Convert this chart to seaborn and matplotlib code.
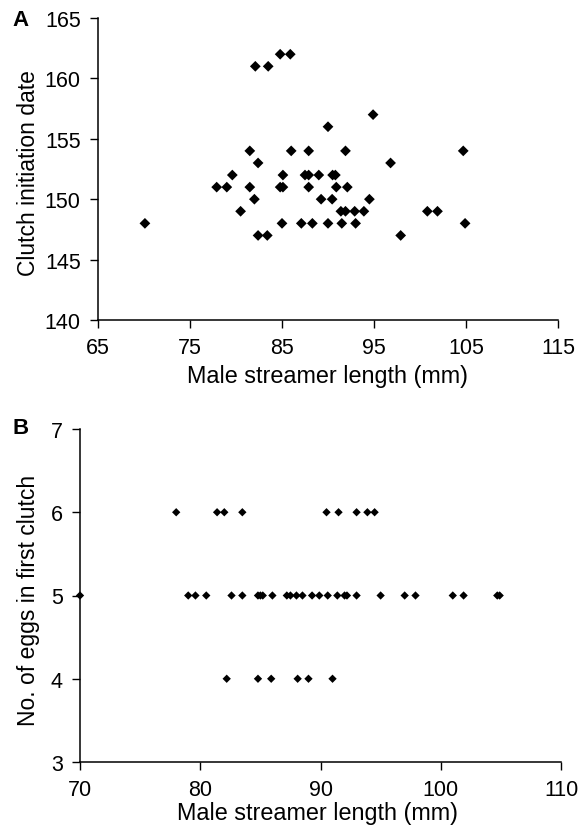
import numpy as np
import pandas as pd
import seaborn as sns
import matplotlib.pyplot as plt

# panel A: clutch initiation date vs male streamer length
streamer_a = [84.8, 85.9,
              82.1, 83.5,
              94.9,
              90.0,
              81.5, 86.0, 87.9, 91.9, 104.7,
              82.4, 96.8,
              79.6, 85.1, 87.5, 87.9, 89.0, 90.5, 90.8,
              77.9, 79.0, 81.5, 84.8, 85.1, 87.9, 90.9, 92.1,
              82.0, 89.25, 90.45, 94.5,
              80.5, 91.4, 91.9, 92.9, 93.9, 100.8, 101.9,
              70.1, 85.0, 87.1, 88.3, 90.0, 91.5, 93.0, 104.9,
              82.4, 83.4, 97.9]
date_a = ([162] * 2 + [161] * 2 + [157] + [156] + [154] * 5 + [153] * 2 +
          [152] * 7 + [151] * 8 + [150] * 4 + [149] * 7 + [148] * 8 + [147] * 3)

# panel B: eggs in first clutch vs male streamer length
streamer_b = [78.0, 81.4, 82.0, 83.5, 90.5, 91.5, 93.0, 93.9, 94.5,
              70.0, 79.0, 79.6, 80.5, 82.6, 83.5, 84.8, 85.0, 85.2, 86.0,
              87.2, 87.5, 88.0, 88.5, 89.3, 89.9, 90.6, 91.4, 92.0, 92.2,
              93.0, 95.0, 97.0, 97.9, 101.0, 101.9, 104.7, 104.9,
              82.2, 84.8, 85.9, 88.1, 89.0, 91.0]
eggs_b = [6] * 9 + [5] * 28 + [4] * 6

df_a = pd.DataFrame({'streamer': streamer_a, 'date': date_a})
df_b = pd.DataFrame({'streamer': streamer_b, 'eggs': eggs_b})

sns.set_style("ticks")
plt.rcParams['font.family'] = ['Liberation Sans', 'DejaVu Sans']
plt.rcParams.update({'text.color': 'black', 'axes.labelcolor': 'black',
                     'xtick.color': 'black', 'ytick.color': 'black',
                     'axes.edgecolor': 'black'})

W, H = 585, 828
fig = plt.figure(figsize=(W / 100, H / 100), dpi=100)

ax1 = fig.add_axes([98 / W, 1 - 321 / H, (558 - 98) / W, (321 - 19) / H])
sns.scatterplot(data=df_a, x='streamer', y='date', marker='D', s=30,
                color='black', edgecolor='none', ax=ax1)
ax1.set_xlim(65, 115)
ax1.set_ylim(140, 165)
ax1.set_xticks([65, 75, 85, 95, 105, 115])
ax1.set_yticks([140, 145, 150, 155, 160, 165])
ax1.set_xlabel('Male streamer length (mm)', fontsize=16.8, va='center')
ax1.set_ylabel('Clutch initiation date', fontsize=16.5, va='center')
ax1.xaxis.set_label_coords(0.499, -0.184)
ax1.yaxis.set_label_coords(-0.152, 0.49)

ax2 = fig.add_axes([80 / W, 1 - 763 / H, (561 - 80) / W, (763 - 430) / H])
sns.scatterplot(data=df_b, x='streamer', y='eggs', marker='D', s=18,
                color='black', edgecolor='none', ax=ax2, clip_on=False)
ax2.set_xlim(70, 110)
ax2.set_ylim(3, 7)
ax2.set_xticks([70, 80, 90, 100, 110])
ax2.set_yticks([3, 4, 5, 6, 7])
ax2.set_xlabel('Male streamer length (mm)', fontsize=16.8, va='center')
ax2.set_ylabel('No. of eggs in first clutch', fontsize=16.5, va='center')
ax2.xaxis.set_label_coords(0.494, -0.152)
ax2.yaxis.set_label_coords(-0.108, 0.488)

for ax in (ax1, ax2):
    sns.despine(ax=ax)
    ax.tick_params(direction='out', length=5.5, width=1, labelsize=15.5, pad=7)
    for sp in ax.spines.values():
        sp.set_linewidth(1.1)

fig.text(12 / W, 1 - 21 / H, 'A', fontweight='bold', fontsize=16, va='center')
fig.text(12 / W, 1 - 429 / H, 'B', fontweight='bold', fontsize=16, va='center')

fig.savefig('out.png', dpi=100, facecolor='white')
